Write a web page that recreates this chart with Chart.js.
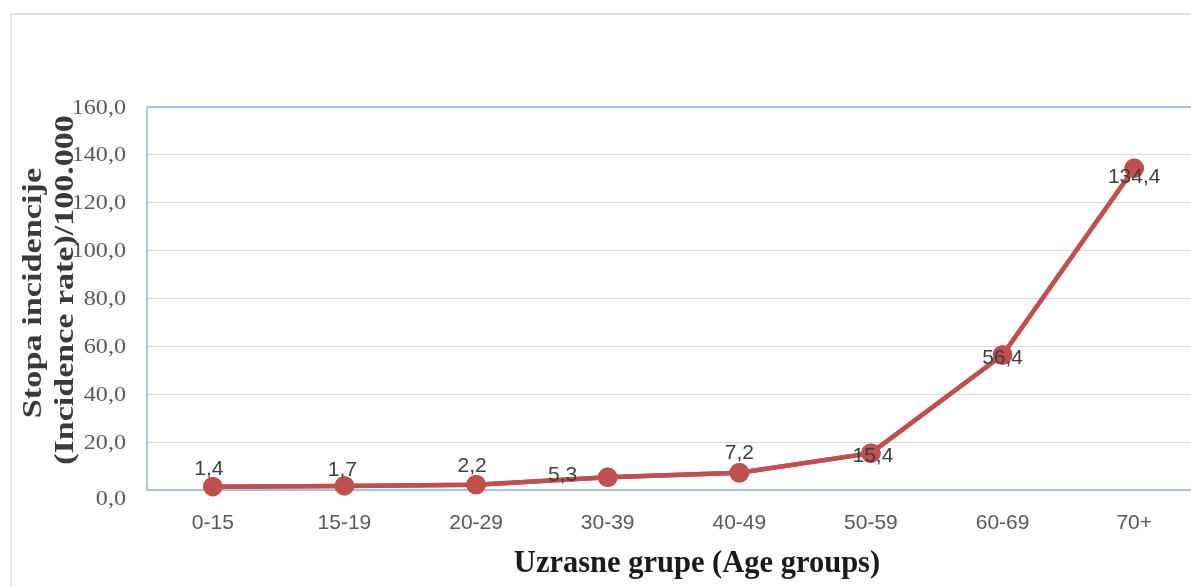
<!DOCTYPE html>
<html>
<head>
<meta charset="utf-8">
<script src="https://cdn.jsdelivr.net/npm/chart.js@4"></script>
<style>
  html, body { margin: 0; padding: 0; background: #fff; overflow: hidden; }
  #wrap { position: absolute; left: 0; top: 0; width: 1212px; height: 587px; }
</style>
</head>
<body>
<div id="wrap"><canvas id="chart"></canvas></div>
<script>
// age groups and incidence per 100.000
const ageGroups = ['0-15', '15-19', '20-29', '30-39', '40-49', '50-59', '60-69', '70+'];
const incidence = [1.4, 1.7, 2.2, 5.3, 7.2, 15.4, 56.4, 134.4];
const yTitle = ['Stopa incidencije', '(Incidence rate)/100.000'];
const xTitle = 'Uzrasne grupe (Age groups)';

const fmt = v => Number(v).toFixed(1).replace('.', ',');

// text drawn with a horizontal stretch, the way the source image looks
function stretchText(ctx, text, x, y, font, color, sx, align, angle) {
    ctx.save();
    ctx.translate(x, y);
    if (angle) ctx.rotate(angle);
    ctx.scale(sx, 1);
    ctx.font = font;
    ctx.fillStyle = color;
    ctx.textAlign = align || 'center';
    ctx.textBaseline = 'middle';
    ctx.fillText(text, 0, 0);
    ctx.restore();
}

const decorPlugin = {
    id: 'decor',
    beforeDraw(chart) {
        const ctx = chart.ctx;
        ctx.save();
        ctx.strokeStyle = '#e3e3e3';
        ctx.lineWidth = 2;
        ctx.strokeRect(11, 14, 1400, 700);
        ctx.restore();
    },
    afterDraw(chart, args, opts) {
        const ctx = chart.ctx;
        const xs = chart.scales.x;
        const ys = chart.scales.y;

        // tick labels
        ys.ticks.forEach(t => {
            const nudge = t.value === 0 ? 9 : 1;
            stretchText(ctx, fmt(t.value), 126, ys.getPixelForValue(t.value) + nudge,
                '21px "Liberation Serif", serif', '#595959', 1.15, 'right');
        });
        ageGroups.forEach((g, i) => {
            stretchText(ctx, g, xs.getPixelForTick(i), 523,
                '21px "Liberation Sans", Arial, sans-serif', '#595959', 1, 'center');
        });

        // axis titles
        stretchText(ctx, yTitle[0], 34, 293, 'bold 27px "Liberation Serif", serif', '#3a3a3a', 1.27, 'center', -Math.PI / 2);
        stretchText(ctx, yTitle[1], 66, 290, 'bold 27px "Liberation Serif", serif', '#3a3a3a', 1.26, 'center', -Math.PI / 2);
        stretchText(ctx, xTitle, 697, 564, 'bold 30.5px "Liberation Serif", serif', '#1a1a1a', 1, 'center');
    },
    afterDatasetsDraw(chart, args, opts) {
        const ctx = chart.ctx;
        const area = chart.chartArea;
        ctx.save();
        ctx.strokeStyle = '#8eb4e3';
        ctx.lineWidth = 1.5;
        ctx.strokeRect(area.left, area.top, area.right - area.left, area.bottom - area.top);
        ctx.restore();

        // redraw the series on top of the border
        chart.getDatasetMeta(0).controller.draw();

        const meta = chart.getDatasetMeta(0);
        meta.data.forEach((pt, i) => {
            const off = opts.labelOffsets[i] || [0, -18];
            stretchText(ctx, fmt(incidence[i]), pt.x + off[0], pt.y + off[1],
                '21px "Liberation Sans", Arial, sans-serif', '#404040', 1, 'center');
        });
    }
};

new Chart(document.getElementById('chart'), {
    type: 'line',
    data: {
        labels: ageGroups,
        datasets: [{
            data: incidence,
            borderColor: '#c0504d',
            backgroundColor: '#c0504d',
            borderWidth: 4.5,
            pointRadius: 7.5,
            pointHoverRadius: 7.5,
            tension: 0
        }]
    },
    options: {
        responsive: true,
        maintainAspectRatio: false,
        animation: false,
        layout: { padding: { top: 107, right: 9, left: 0, bottom: 0 } },
        plugins: {
            legend: { display: false },
            tooltip: { enabled: false },
            decor: {
                labelOffsets: [[-4, -17], [-2, -16], [-4, -19], [-45, -2], [0, -20], [2, 3], [0, 3], [0, 9]]
            }
        },
        scales: {
            x: {
                offset: true,
                grid: { display: false },
                border: { display: false },
                ticks: { display: false },
                afterFit(scale) { scale.height = 97; }
            },
            y: {
                min: 0,
                max: 160,
                grid: { color: '#d9d9d9', lineWidth: 1, drawTicks: false },
                border: { display: false },
                ticks: { stepSize: 20, display: false },
                afterFit(scale) { scale.width = 147; }
            }
        }
    },
    plugins: [decorPlugin]
});
</script>
</body>
</html>
